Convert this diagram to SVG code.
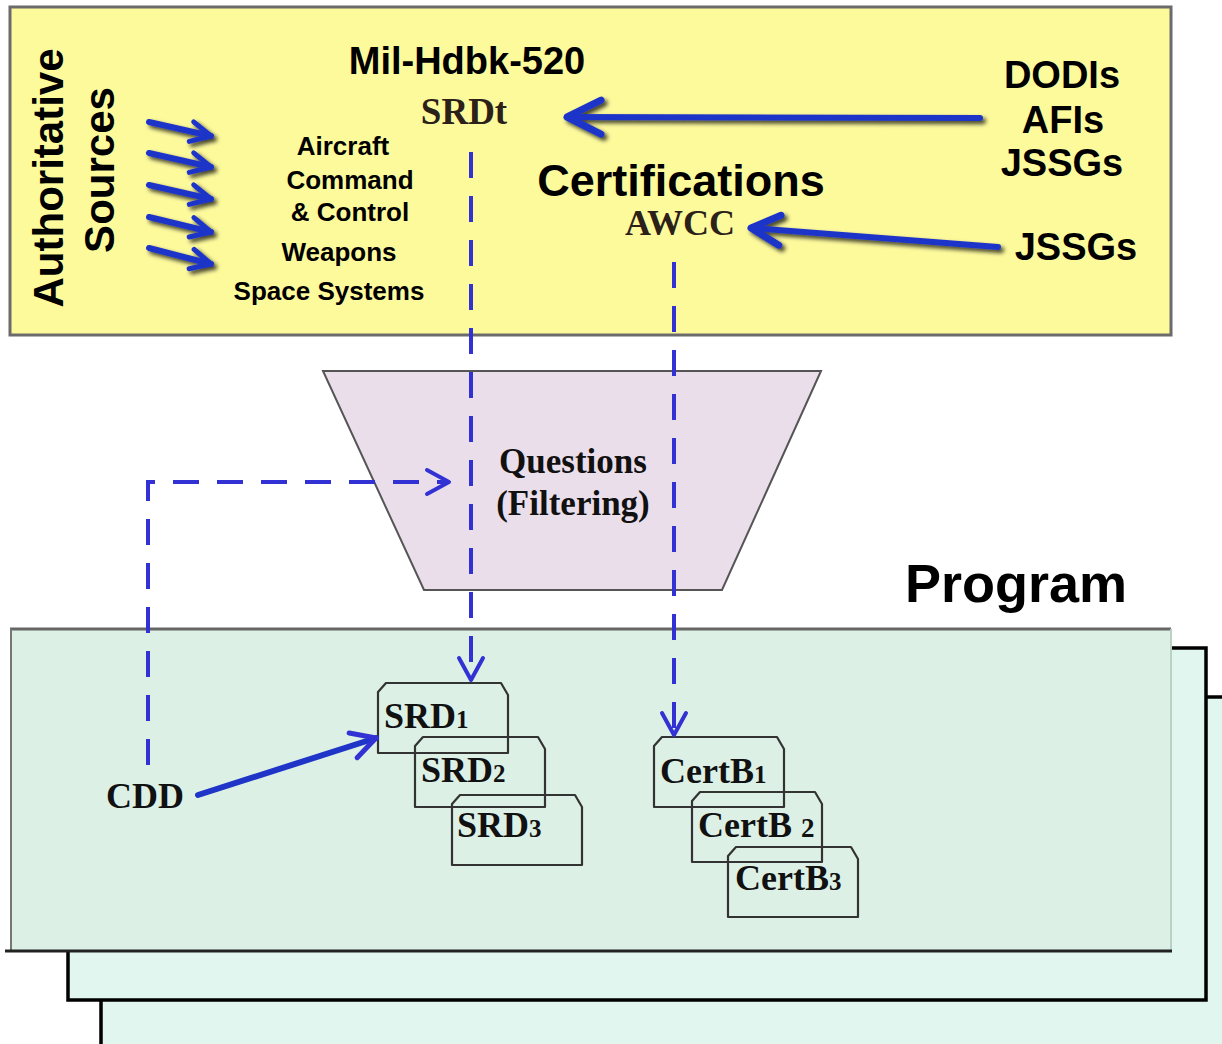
<svg xmlns="http://www.w3.org/2000/svg" xmlns:xlink="http://www.w3.org/1999/xlink" width="1222" height="1044" viewBox="0 0 1222 1044">
  <style>
    .sans { font-family: "Liberation Sans", Arial, sans-serif; font-weight: bold; fill: #000; }
    .serif { font-family: "Liberation Serif", "Times New Roman", serif; font-weight: bold; fill: #111; }
    .brown { fill: #2b2118; }
    .solid { fill: none; stroke: #1f35c8; stroke-width: 6; stroke-linecap: round; }
    .dash { fill: none; stroke: #3232d4; stroke-width: 4; stroke-dasharray: 26 18; }
    .card { fill: none; stroke: #333; stroke-width: 2.2; stroke-linejoin: round; }
    .frame { fill: #e0f6ee; stroke: #000; stroke-width: 3.5; }
  </style>
  <defs>
    <filter id="shadow" x="-20%" y="-50%" width="140%" height="200%">
      <feDropShadow dx="3" dy="3" stdDeviation="2" flood-color="#000" flood-opacity="0.75"/>
    </filter>
    <marker id="headL" markerUnits="userSpaceOnUse" viewBox="-40 -25 50 50" markerWidth="50" markerHeight="50" refX="0" refY="0" orient="auto" overflow="visible">
      <path d="M-34,-17 L0,0 L-34,17" fill="none" stroke="#1f35c8" stroke-width="7" stroke-linecap="round" stroke-linejoin="round"/>
    </marker>
    <marker id="headM" markerUnits="userSpaceOnUse" viewBox="-40 -25 50 50" markerWidth="50" markerHeight="50" refX="0" refY="0" orient="auto" overflow="visible">
      <path d="M-29,-15 L0,0 L-29,15" fill="none" stroke="#1f35c8" stroke-width="7" stroke-linecap="round" stroke-linejoin="round"/>
    </marker>
    <marker id="headS" markerUnits="userSpaceOnUse" viewBox="-30 -20 40 40" markerWidth="40" markerHeight="40" refX="0" refY="0" orient="auto" overflow="visible">
      <path d="M-20,-10 L0,0 L-20,10" fill="none" stroke="#1f35c8" stroke-width="5" stroke-linecap="round" stroke-linejoin="round"/>
    </marker>
    <marker id="headC" markerUnits="userSpaceOnUse" viewBox="-30 -20 40 40" markerWidth="40" markerHeight="40" refX="0" refY="0" orient="auto" overflow="visible">
      <path d="M-24,-13 L0,0 L-24,13" fill="none" stroke="#3232d4" stroke-width="5" stroke-linecap="round" stroke-linejoin="round"/>
    </marker>
    <marker id="headD" markerUnits="userSpaceOnUse" viewBox="-30 -20 40 40" markerWidth="40" markerHeight="40" refX="0" refY="0" orient="auto" overflow="visible">
      <path d="M-22,-12 L0,0 L-22,12" fill="none" stroke="#3232d4" stroke-width="4" stroke-linecap="round" stroke-linejoin="round"/>
    </marker>
    <path id="card" d="M0,9 L8,0 L123,0 L130,12 L130,70 L0,70 Z"/>
  </defs>

  <!-- stacked program frames (back to front) -->
  <g id="program-frames">
    <rect class="frame" x="101" y="697" width="1140" height="370"/>
    <rect class="frame" x="68" y="648" width="1138" height="352"/>
    <rect x="10" y="629" width="1161" height="322" fill="#dcf0e6"/>
    <line x1="10" y1="629" x2="1171" y2="629" stroke="#666" stroke-width="3"/>
    <line x1="11" y1="629" x2="11" y2="951" stroke="#777" stroke-width="2"/>
    <line x1="1171" y1="629" x2="1171" y2="951" stroke="#b8d2c8" stroke-width="2"/>
    <line x1="5" y1="951" x2="1172" y2="951" stroke="#222" stroke-width="3"/>
  </g>

  <!-- authoritative sources panel -->
  <g id="sources-panel">
    <rect x="10" y="7" width="1161" height="328" fill="#fdfa9c" stroke="#6b6b6b" stroke-width="3"/>
    <text class="sans" font-size="42" text-anchor="middle" transform="translate(63,178) rotate(-90)">Authoritative</text>
    <text class="sans" font-size="42" text-anchor="middle" transform="translate(114,170) rotate(-90)">Sources</text>
  </g>

  <g id="domains">
    <text class="sans" font-size="26" text-anchor="middle" x="343" y="155">Aircraft</text>
    <text class="sans" font-size="26" text-anchor="middle" x="350" y="189">Command</text>
    <text class="sans" font-size="26" text-anchor="middle" x="350" y="221">&amp; Control</text>
    <text class="sans" font-size="26" text-anchor="middle" x="339" y="261">Weapons</text>
    <text class="sans" font-size="26" text-anchor="middle" x="329" y="300">Space Systems</text>
  </g>

  <g id="mil-hdbk">
    <text class="sans" font-size="38" text-anchor="middle" x="467" y="74">Mil-Hdbk-520</text>
    <text class="serif brown" font-size="37" text-anchor="middle" x="464" y="124">SRDt</text>
  </g>

  <g id="certifications">
    <text class="sans" font-size="45" text-anchor="middle" x="681" y="196">Certifications</text>
    <text class="serif brown" font-size="36" text-anchor="middle" x="680" y="235">AWCC</text>
  </g>

  <g id="directives">
    <text class="sans" font-size="38" text-anchor="middle" x="1062" y="88">DODIs</text>
    <text class="sans" font-size="38" text-anchor="middle" x="1063" y="133">AFIs</text>
    <text class="sans" font-size="38" text-anchor="middle" x="1062" y="176">JSSGs</text>
  </g>

  <g id="jssgs">
    <text class="sans" font-size="38" text-anchor="middle" x="1076" y="260">JSSGs</text>
  </g>

  <!-- filtering funnel -->
  <g id="questions">
    <polygon points="323,371 821,371 722,590 424,590" fill="#ebdeeb" stroke="#555" stroke-width="2"/>
    <text class="serif" font-size="35" text-anchor="middle" x="573" y="473">Questions</text>
    <text class="serif" font-size="35" text-anchor="middle" x="573" y="515">(Filtering)</text>
  </g>

  <g id="program-label">
    <text class="sans" font-size="54" x="905" y="602">Program</text>
  </g>

  <g id="cdd">
    <text class="serif" font-size="36" x="106" y="808">CDD</text>
  </g>

  <!-- system requirement documents -->
  <g id="srd1">
    <use xlink:href="#card" class="card" transform="translate(378,683)"/>
    <text class="serif" font-size="36" x="384" y="728">SRD<tspan font-size="25">1</tspan></text>
  </g>
  <g id="srd2">
    <use xlink:href="#card" class="card" transform="translate(415,737)"/>
    <text class="serif" font-size="36" x="421" y="782">SRD<tspan font-size="25">2</tspan></text>
  </g>
  <g id="srd3">
    <use xlink:href="#card" class="card" transform="translate(452,795)"/>
    <text class="serif" font-size="36" x="457" y="837">SRD<tspan font-size="25">3</tspan></text>
  </g>

  <!-- certification basis documents -->
  <g id="certb1">
    <use xlink:href="#card" class="card" transform="translate(654,737)"/>
    <text class="serif" font-size="36" x="660" y="783">CertB<tspan font-size="25">1</tspan></text>
  </g>
  <g id="certb2">
    <use xlink:href="#card" class="card" transform="translate(692,792)"/>
    <text class="serif" font-size="36" x="698" y="837">CertB <tspan font-size="27">2</tspan></text>
  </g>
  <g id="certb3">
    <use xlink:href="#card" class="card" transform="translate(728,847)"/>
    <text class="serif" font-size="36" x="735" y="890">CertB<tspan font-size="25">3</tspan></text>
  </g>

  <!-- connectors -->
  <g id="connectors">
    <g filter="url(#shadow)">
      <path class="solid" d="M149,122 L211,136" marker-end="url(#headS)"/>
      <path class="solid" d="M149,153 L211,167" marker-end="url(#headS)"/>
      <path class="solid" d="M149,185 L211,199" marker-end="url(#headS)"/>
      <path class="solid" d="M149,217 L211,232" marker-end="url(#headS)"/>
      <path class="solid" d="M149,248 L211,264" marker-end="url(#headS)"/>
      <path class="solid" d="M980,118 L567,117" marker-end="url(#headL)"/>
      <path class="solid" d="M998,247 L751,228" marker-end="url(#headM)"/>
    </g>
    <path class="solid" d="M198,795 L376,738" stroke="#3030cc" marker-end="url(#headC)"/>
    <path class="dash" d="M471,152 L471,680" marker-end="url(#headD)"/>
    <path class="dash" d="M674,262 L674,735" marker-end="url(#headD)"/>
    <path class="dash" d="M148,765 L148,482 L449,482" marker-end="url(#headD)"/>
  </g>
</svg>
